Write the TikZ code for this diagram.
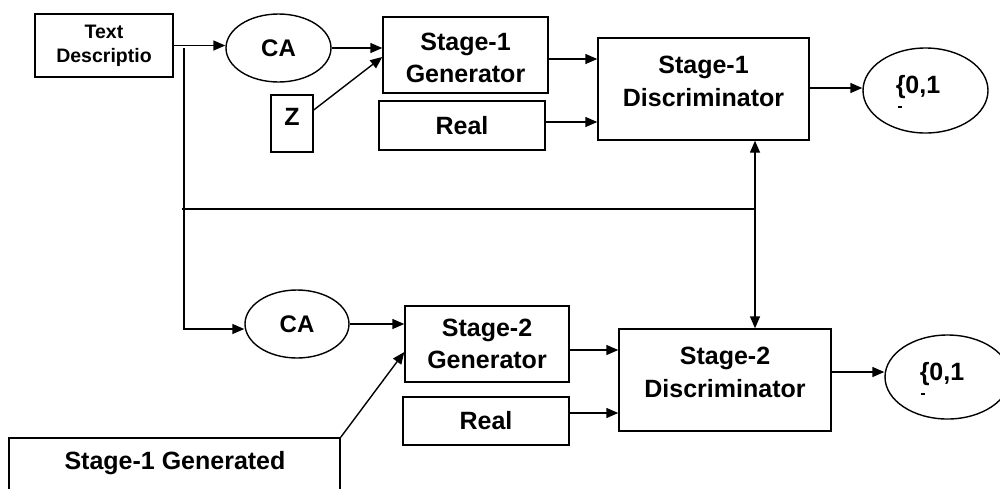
\documentclass[tikz,border=0pt]{standalone}
\usepackage{fontspec}
\setmainfont{Liberation Sans}
\usetikzlibrary{arrows.meta,calc,shapes.geometric}

\begin{document}
\begin{tikzpicture}[x=1pt,y=-1pt,line width=1.4pt,
  >={Triangle[length=12pt,width=10pt]},
  box/.style={draw,rectangle,inner sep=0pt},
  oval/.style={draw,ellipse,inner sep=0pt},
  big/.style={font=\fontsize{25}{32}\selectfont\bfseries,align=center,inner sep=0pt},
  bigd/.style={font=\fontsize{25}{33}\selectfont\bfseries,align=center,inner sep=0pt},
  small/.style={font=\fontsize{19.5}{24}\selectfont\bfseries,align=center,inner sep=0pt},
  mid/.style={font=\fontsize{24}{28}\selectfont\bfseries},
]
\useasboundingbox (0,0) rectangle (1000,488);
\clip (0,0) rectangle (1000,488);

% ---- stage 1 ----
\node[box,small,minimum width=138,minimum height=63] (td) at (104,45.5) {Text\\Descriptio};
\node[oval,mid,minimum width=105,minimum height=68] (ca1) at (278.5,48) {CA};
\node[box,minimum width=165,minimum height=76] (gen1) at (465.5,55) {};
\node[big] (gen1t) at (465.5,57.5) {Stage-1\\Generator};
\node[box,minimum width=42,minimum height=57] (z) at (292,123.5) {};
\node[big] (zt) at (292,117) {Z};
\node[box,big,minimum width=166,minimum height=49] (real1) at (462,125.5) {Real};
\node[box,minimum width=211,minimum height=102] (d1) at (703.5,89) {};
\node[bigd] (d1t) at (703.5,81.5) {Stage-1\\Discriminator};
\node[oval,minimum width=125,minimum height=85] (o1) at (925.5,90.5) {};
\node[big,anchor=base] (o1t) at (918,93) {\{0,1};
\fill (898,105.5) rectangle (902,108);

% ---- stage 2 ----
\node[oval,mid,minimum width=104,minimum height=68] (ca2) at (297,324) {CA};
\node[box,big,minimum width=164,minimum height=76] (gen2) at (487,344) {Stage-2\\Generator};
\node[box,big,minimum width=166,minimum height=48] (real2) at (486,421) {Real};
\node[box,minimum width=212,minimum height=102] (d2) at (725,380) {};
\node[bigd] (d2t) at (725,372) {Stage-2\\Discriminator};
\node[oval,minimum width=125,minimum height=84] (o2) at (947.5,377) {};
\node[big,anchor=base] (o2t) at (942,380) {\{0,1};
\fill (921,392.5) rectangle (925,395);
\node[box,minimum width=331,minimum height=62] (sg) at (174.5,469) {};
\node[big,anchor=base] (sgt) at (175,469) {Stage-1 Generated};

% ---- connectors ----
\draw[->] (td.east) -- (td.east -| ca1.west);
\draw[->] (ca1.east) -- (ca1.east -| gen1.west);
\draw[->] ([yshift=13.5pt]z.east) -- ([yshift=-2pt]gen1.west);
\draw[->] ([yshift=-4pt]gen1.east) coordinate (g1o) -- (g1o -| d1.west);
\draw[->] ([yshift=3.5pt]real1.east) coordinate (r1o) -- (r1o -| d1.west);
\draw[->] ([yshift=1pt]d1.east) coordinate (d1o) -- (d1o -| o1.west);
\draw[<->] ([xshift=51.5pt]d1.south) coordinate (v1) -- (v1 |- d2.north);
\coordinate (tap) at (184,48);
\coordinate (bus) at (182,209);
\draw (bus) -- (bus -| v1);
\draw[->] (tap) |- ([yshift=-5pt]ca2.west);
\draw[->] (ca2.east) -- (ca2.east -| gen2.west);
\draw[->] (sg.north east) -- ([yshift=-8pt]gen2.west);
\draw[->] ([yshift=-6pt]gen2.east) coordinate (g2o) -- (g2o -| d2.west);
\draw[->] ([yshift=8pt]real2.east) coordinate (r2o) -- (r2o -| d2.west);
\draw[->] ([yshift=8pt]d2.east) coordinate (d2o) -- (d2o -| o2.west);
\end{tikzpicture}
\end{document}
